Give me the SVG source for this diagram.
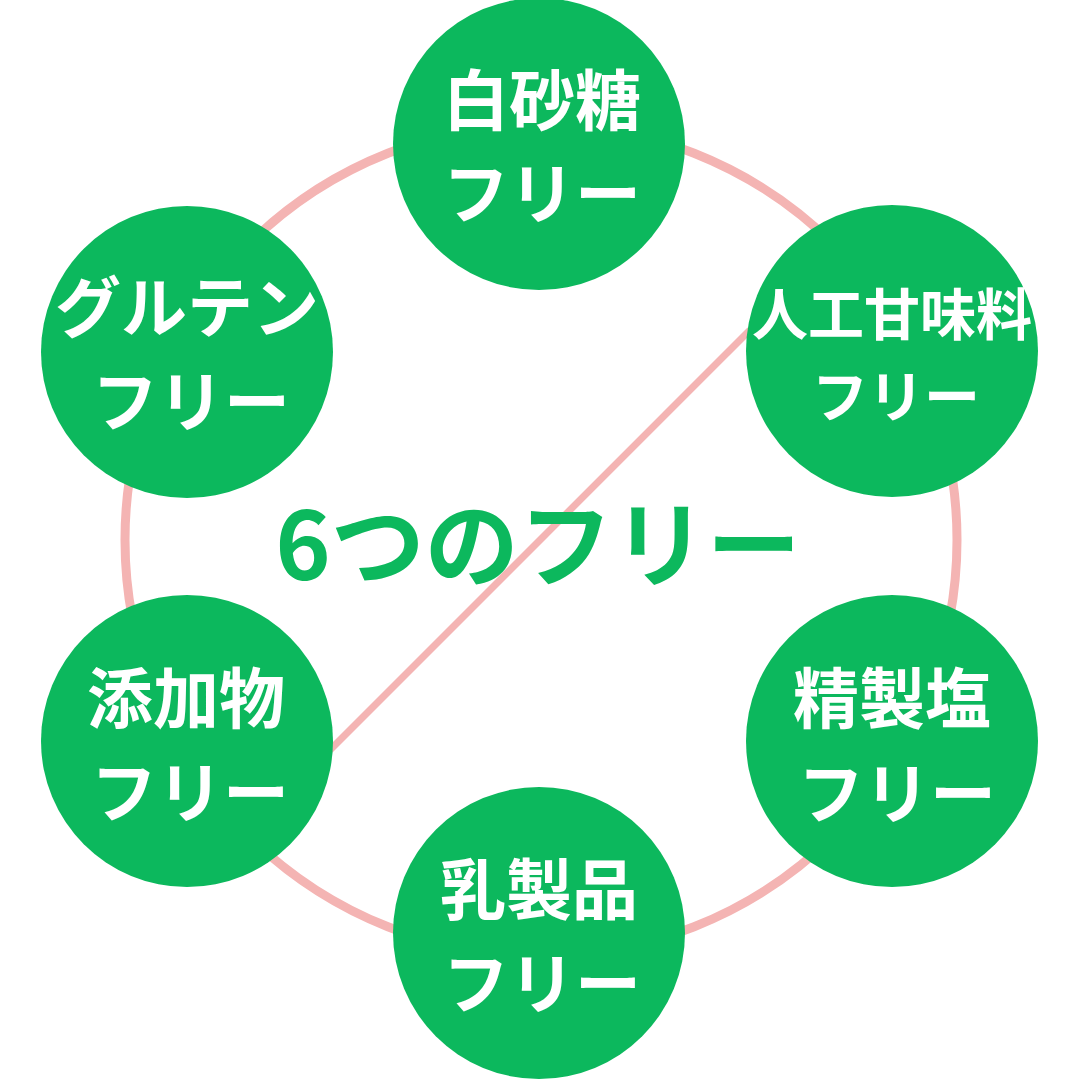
<svg xmlns="http://www.w3.org/2000/svg" width="1080" height="1080" viewBox="0 0 1080 1080">
  <style>
    .ring { fill: none; stroke: #f4b4b3; stroke-width: 9; }
    .node circle { fill: #0cb85d; }
    .node text { fill: #ffffff; font-family: "Noto Sans CJK JP", "Noto Sans", sans-serif; font-weight: 700; text-anchor: middle; }
    .title { fill: #0cb85d; font-family: "Noto Sans CJK JP", "Noto Sans", sans-serif; font-weight: 700; text-anchor: middle; font-size: 94px; }
  </style>
  <rect width="1080" height="1080" fill="#ffffff"/>
  <g id="connectors">
    <circle class="ring" cx="541" cy="540" r="416"/>
    <line x1="330" y1="750" x2="750" y2="330" stroke="#f4b4b3" stroke-width="7"/>
  </g>
  <g id="node-sugar" class="node">
    <circle cx="539" cy="144" r="146"/>
    <text x="542" y="125" font-size="66">白砂糖</text>
    <text x="542" y="218" font-size="66">フリー</text>
  </g>
  <g id="node-sweetener" class="node">
    <circle cx="892" cy="351" r="146"/>
    <text x="892" y="335" font-size="56">人工甘味料</text>
    <text x="896" y="417" font-size="56">フリー</text>
  </g>
  <g id="node-salt" class="node">
    <circle cx="892" cy="741" r="146"/>
    <text x="892" y="723" font-size="66">精製塩</text>
    <text x="897" y="818" font-size="66">フリー</text>
  </g>
  <g id="node-dairy" class="node">
    <circle cx="539" cy="933" r="146"/>
    <text x="539" y="914" font-size="66">乳製品</text>
    <text x="542" y="1008" font-size="66">フリー</text>
  </g>
  <g id="node-additive" class="node">
    <circle cx="187" cy="741" r="146"/>
    <text x="186" y="723" font-size="66">添加物</text>
    <text x="190" y="817" font-size="66">フリー</text>
  </g>
  <g id="node-gluten" class="node">
    <circle cx="187" cy="352" r="146"/>
    <text x="187" y="332" font-size="66">グルテン</text>
    <text x="191" y="426" font-size="66">フリー</text>
  </g>
  <text id="title" class="title" x="538" y="580">6つのフリー</text>
</svg>
